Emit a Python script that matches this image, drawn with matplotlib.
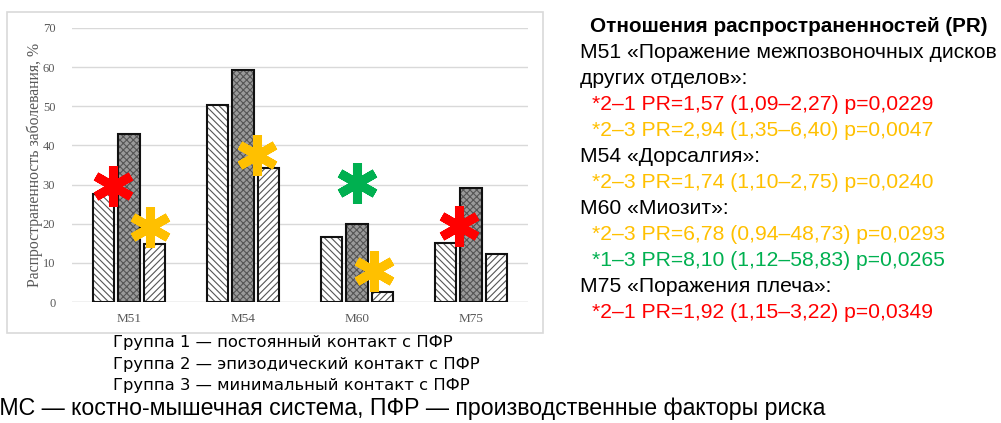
import matplotlib
matplotlib.use("Agg")
import matplotlib.pyplot as plt
import numpy as np
from matplotlib.patches import Rectangle

categories = ["M51", "M54", "M60", "M75"]
group1 = [27.6, 50.3, 16.7, 15.2]
group2 = [42.9, 59.3, 19.8, 29.1]
group3 = [14.8, 34.2, 2.5, 12.2]
yticks = [0, 10, 20, 30, 40, 50, 60, 70]
ylabel = "Распространенность заболевания, %"

# significance asterisks: (category index, x offset, y value, colour)
star_cat = [0, 0, 1, 2, 2, 3]
star_dx = [-0.136, 0.18, 0.127, 0.0, 0.15, -0.105]
star_y = [29.6, 19.2, 37.6, 30.4, 7.8, 19.3]
star_col = ["#ff0000", "#ffc000", "#ffc000", "#00b050", "#ffc000", "#ff0000"]

legend_lines = ["Группа 1 — постоянный контакт с ПФР",
                "Группа 2 — эпизодический контакт с ПФР",
                "Группа 3 — минимальный контакт с ПФР"]
footer = "КМС — костно-мышечная система, ПФР — производственные факторы риска"

pr_title = "Отношения распространенностей (PR)"
pr_lines = [
    ("M51 «Поражение межпозвоночных дисков", "black", 0),
    ("других отделов»:", "black", 0),
    ("*2–1 PR=1,57 (1,09–2,27) p=0,0229", "#ff0000", 1),
    ("*2–3 PR=2,94 (1,35–6,40) p=0,0047", "#ffc000", 1),
    ("M54 «Дорсалгия»:", "black", 0),
    ("*2–3 PR=1,74 (1,10–2,75) p=0,0240", "#ffc000", 1),
    ("M60 «Миозит»:", "black", 0),
    ("*2–3 PR=6,78 (0,94–48,73) p=0,0293", "#ffc000", 1),
    ("*1–3 PR=8,10 (1,12–58,83) p=0,0265", "#00b050", 1),
    ("M75 «Поражения плеча»:", "black", 0),
    ("*2–1 PR=1,92 (1,15–3,22) p=0,0349", "#ff0000", 1),
]

W, H = 1001, 423
fig = plt.figure(figsize=(W / 100, H / 100), dpi=100)
plt.rcParams['hatch.linewidth'] = 0.8

# chart frame
fig.patches.append(Rectangle((7 / W, 1 - 333 / H), (543 - 7) / W, (333 - 12) / H,
                             transform=fig.transFigure, fill=False,
                             edgecolor="#d9d9d9", lw=1.2, zorder=0))

ax = fig.add_axes([72 / W, 1 - 302 / H, (528 - 72) / W, (302 - 28) / H])
x = np.arange(len(categories))
bw = 0.185
step = 0.22
serif = "Liberation Serif"
gray = "#595959"

# group 1: back-diagonal hatch
ax.bar(x - step, group1, bw, facecolor="white", edgecolor="#555555",
       hatch="\\\\\\\\\\", lw=0, zorder=2)
ax.bar(x - step, group1, bw, fill=False, edgecolor="#111111", lw=1.5, zorder=3)
# group 2: dark checkered
ax.bar(x, group2, bw, facecolor="#9a9a9a", edgecolor="#555555",
       hatch="xxxxx", lw=0, zorder=2)
ax.bar(x, group2, bw, fill=False, edgecolor="#111111", lw=1.5, zorder=3)
# group 3: forward-diagonal hatch
ax.bar(x + step, group3, bw, facecolor="white", edgecolor="#555555",
       hatch="/////", lw=0, zorder=2)
ax.bar(x + step, group3, bw, fill=False, edgecolor="#111111", lw=1.5, zorder=3)

for c, dx, yv, col in zip(star_cat, star_dx, star_y, star_col):
    ax.plot(x[c] + dx, yv, marker=(6, 2, 0), markersize=29, markeredgewidth=6.5,
            color=col, linestyle="none", zorder=5, clip_on=False)

ax.set_xlim(-0.5, len(categories) - 0.5)
ax.set_ylim(0, 70)
ax.set_yticks(yticks)
ax.set_yticklabels([str(t) for t in yticks], fontfamily=serif, fontsize=9, color=gray)
ax.set_xticks(x)
ax.set_xticklabels(categories, fontfamily=serif, fontsize=9.5, color=gray)
ax.tick_params(length=0)
ax.tick_params(axis="y", pad=12)
ax.tick_params(axis="x", pad=8)
ax.yaxis.grid(True, color="#d9d9d9", lw=1, zorder=0)
ax.set_axisbelow(True)
for s in ax.spines.values():
    s.set_visible(False)
ax.axhline(0, color="#d9d9d9", lw=1, zorder=1)
ax.set_ylabel(ylabel, fontfamily=serif, fontsize=11.3, color=gray)
ax.yaxis.set_label_coords(-0.064, 0.5)
ax.patch.set_alpha(0)

sans = "Liberation Sans"
# legend text under chart
for i, line in enumerate(legend_lines):
    fig.text(113 / W, 1 - (343 + 21 * i) / H, line, fontfamily="DejaVu Sans",
             fontsize=11.75, va="center", ha="left", color="black")
fig.text(-13.5 / W, 1 - 408 / H, footer, fontfamily=sans, fontsize=16.7,
         va="center", ha="left", color="black")

# right text block
fig.text(590 / W, 1 - 27 / H, pr_title, fontfamily=sans, fontsize=14.9,
         fontweight="bold", va="center", ha="left")
for i, (line, col, ind) in enumerate(pr_lines):
    fig.text((580 + 12 * ind) / W, 1 - (52 + 26.1 * i) / H, line, fontfamily=sans,
             fontsize=15.2, va="center", ha="left", color=col)

fig.savefig("out.png", dpi=100)
